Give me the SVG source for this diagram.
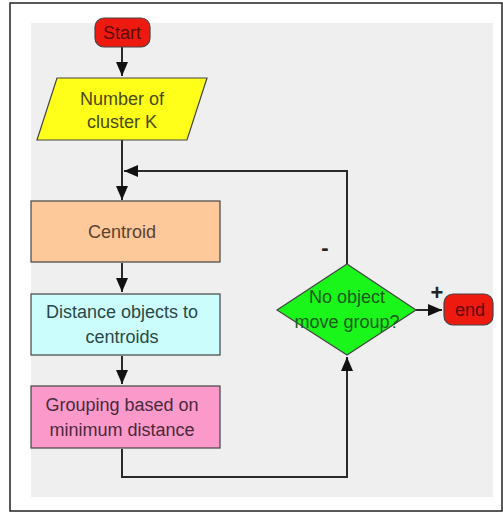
<svg xmlns="http://www.w3.org/2000/svg" width="503" height="513" viewBox="0 0 503 513">
<style>
.t{font-family:"Liberation Sans",Arial,sans-serif;font-size:18px;text-anchor:middle}
.s{font-family:"Liberation Sans",Arial,sans-serif;font-size:22px;text-anchor:middle;font-weight:bold}
.ln{fill:none;stroke:#2a2a2a;stroke-width:2}
.bx{stroke:#444;stroke-width:1.2}
</style>
<defs>
<marker id="ah2" viewBox="0 0 10 10" refX="10" refY="5" markerWidth="14" markerHeight="12" markerUnits="userSpaceOnUse" orient="auto" preserveAspectRatio="none">
<path d="M0,0 L10,5 L0,10 Z" fill="#111"/>
</marker>
</defs>
<rect x="0" y="0" width="503" height="513" fill="#fff"/>
<rect x="10" y="3" width="492" height="508" fill="#fff" stroke="#222" stroke-width="1.5"/>
<rect x="31" y="23" width="462" height="474" fill="#efefef"/>
<g id="connectors">
<line class="ln" x1="122" y1="47" x2="122" y2="76" marker-end="url(#ah2)"/>
<line class="ln" x1="122" y1="140" x2="122" y2="200" marker-end="url(#ah2)"/>
<line class="ln" x1="122" y1="263" x2="122" y2="292" marker-end="url(#ah2)"/>
<line class="ln" x1="122" y1="356" x2="122" y2="384" marker-end="url(#ah2)"/>
<polyline class="ln" points="122,449 122,477 347,477 347,357" marker-end="url(#ah2)"/>
<polyline class="ln" points="347,264 347,171 124,171" marker-end="url(#ah2)"/>
<line class="ln" x1="416" y1="310" x2="442" y2="310" marker-end="url(#ah2)"/>
<text class="s" x="325" y="255" fill="#222">-</text>
<text class="s" x="437" y="300" fill="#222">+</text>
</g>
<g id="start">
<rect class="bx" x="95" y="18" width="55" height="29" rx="9" fill="#ee1a10"/>
<text class="t" x="122" y="39" fill="#5a0a0a">Start</text>
</g>
<g id="input">
<polygon class="bx" points="57,78 207,78 187,140 37,140" fill="#ffff1a"/>
<text class="t" x="122" y="105" fill="#4a4a10">Number of</text>
<text class="t" x="122" y="128" fill="#4a4a10">cluster K</text>
</g>
<g id="centroid">
<rect class="bx" x="31" y="201" width="189" height="61" fill="#fdc89a"/>
<text class="t" x="122" y="238" fill="#5a4232">Centroid</text>
</g>
<g id="distance">
<rect class="bx" x="31" y="294" width="189" height="61" fill="#ccfdfd"/>
<text class="t" x="122" y="318" fill="#2a4848">Distance objects to</text>
<text class="t" x="122" y="343" fill="#2a4848">centroids</text>
</g>
<g id="grouping">
<rect class="bx" x="31" y="386" width="189" height="62" fill="#fb99cb"/>
<text class="t" x="122" y="411" fill="#4a2a3a">Grouping based on</text>
<text class="t" x="122" y="436" fill="#4a2a3a">minimum distance</text>
</g>
<g id="decision">
<polygon class="bx" points="347,264 416,310 347,355 277,310" fill="#1af51a"/>
<text class="t" x="347" y="303" fill="#1a5a1a">No object</text>
<text class="t" x="347" y="328" fill="#1a5a1a">move group?</text>
</g>
<g id="end">
<rect class="bx" x="444" y="294" width="49" height="31" rx="9" fill="#ee1a10"/>
<text class="t" x="470" y="316" fill="#5a0a0a">end</text>
</g>
</svg>
